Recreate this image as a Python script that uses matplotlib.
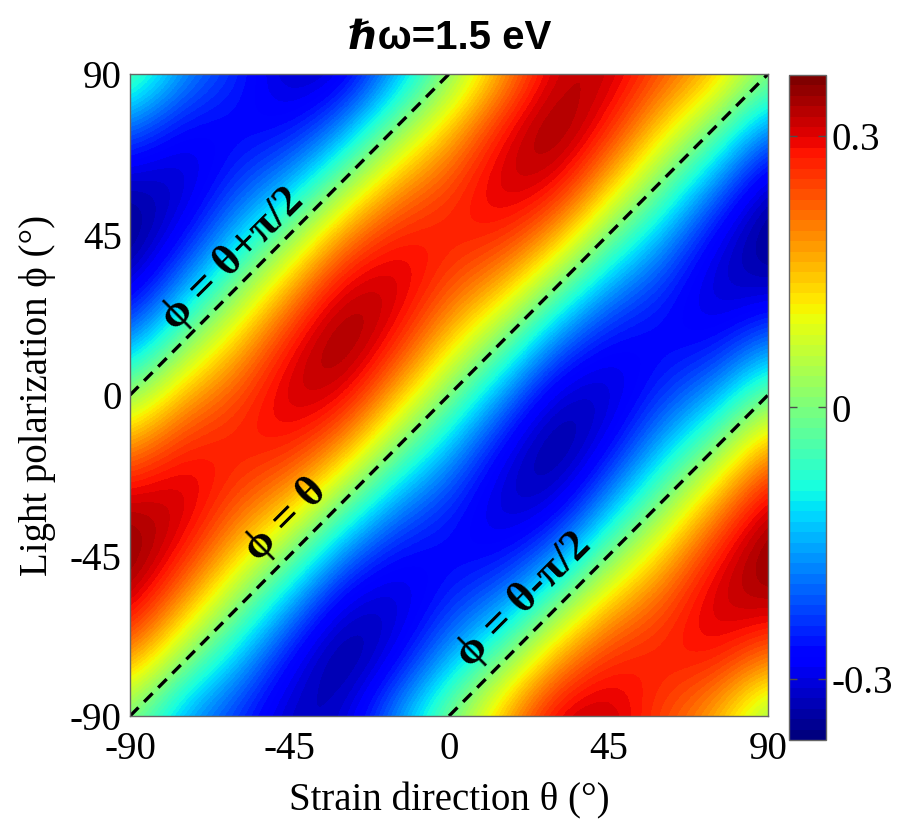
import matplotlib
matplotlib.use('Agg')
import matplotlib.pyplot as plt
import numpy as np

# angle grid (deg), 15 deg steps
theta = [-90, -75, -60, -45, -30, -15, 0, 15, 30, 45, 60, 75, 90]   # strain direction
phi = [-90, -75, -60, -45, -30, -15, 0, 15, 30, 45, 60, 75, 90]     # light polarization

# map values, one row per phi (bottom row = -90), one column per theta
r_m90 = [0.000, -0.165, -0.242, -0.330, -0.322, -0.165, 0.000, 0.165, 0.322, 0.330, 0.242, 0.165, 0.000]
r_m75 = [0.186, 0.000, -0.140, -0.286, -0.372, -0.286, -0.140, 0.000, 0.186, 0.286, 0.280, 0.286, 0.186]
r_m60 = [0.322, 0.165, 0.000, -0.165, -0.322, -0.330, -0.242, -0.165, 0.000, 0.165, 0.242, 0.330, 0.322]
r_m45 = [0.372, 0.286, 0.140, 0.000, -0.186, -0.286, -0.280, -0.286, -0.186, 0.000, 0.140, 0.286, 0.372]
r_m30 = [0.322, 0.330, 0.242, 0.165, 0.000, -0.165, -0.242, -0.330, -0.322, -0.165, 0.000, 0.165, 0.322]
r_m15 = [0.186, 0.286, 0.280, 0.286, 0.186, 0.000, -0.140, -0.286, -0.372, -0.286, -0.140, 0.000, 0.186]
r_0 = [0.000, 0.165, 0.242, 0.330, 0.322, 0.165, 0.000, -0.165, -0.322, -0.330, -0.242, -0.165, 0.000]
r_15 = [-0.186, 0.000, 0.140, 0.286, 0.372, 0.286, 0.140, 0.000, -0.186, -0.286, -0.280, -0.286, -0.186]
r_30 = [-0.322, -0.165, 0.000, 0.165, 0.322, 0.330, 0.242, 0.165, 0.000, -0.165, -0.242, -0.330, -0.322]
r_45 = [-0.372, -0.286, -0.140, 0.000, 0.186, 0.286, 0.280, 0.286, 0.186, 0.000, -0.140, -0.286, -0.372]
r_60 = [-0.322, -0.330, -0.242, -0.165, 0.000, 0.165, 0.242, 0.330, 0.322, 0.165, 0.000, -0.165, -0.322]
r_75 = [-0.186, -0.286, -0.280, -0.286, -0.186, 0.000, 0.140, 0.286, 0.372, 0.286, 0.140, 0.000, -0.186]
r_90 = [0.000, -0.165, -0.242, -0.330, -0.322, -0.165, 0.000, 0.165, 0.322, 0.330, 0.242, 0.165, 0.000]

Z = np.array([r_m90, r_m75, r_m60, r_m45, r_m30, r_m15, r_0,
              r_15, r_30, r_45, r_60, r_75, r_90])

ticks = [-90, -45, 0, 45, 90]
cticks = [-0.3, 0, 0.3]
clim = 0.368

serif = ['Liberation Serif', 'DejaVu Serif']
sans = ['Liberation Sans', 'DejaVu Sans']

fig = plt.figure(figsize=(9, 8.22), dpi=100)
ax = fig.add_axes([130/900, 1-716/822, 638/900, 642/822])
cax = fig.add_axes([789/900, 1-740/822, 37/900, 665/822])

cmap = plt.get_cmap('jet', 64)
step = theta[1]-theta[0]
im = ax.imshow(Z, origin='lower', cmap=cmap, vmin=-clim, vmax=clim,
               extent=[theta[0]-step/2, theta[-1]+step/2, phi[0]-step/2, phi[-1]+step/2],
               interpolation='bicubic', aspect='auto')
ax.set_xlim(-90, 90)
ax.set_ylim(-90, 90)

# guide lines phi = theta, theta +/- pi/2
dash = dict(color='k', lw=2.4, ls='--', dashes=(3.6, 2.4))
ax.plot([-90, 90], [-90, 90], **dash)
ax.plot([-90, 0], [0, 90], **dash)
ax.plot([0, 90], [-90, 0], **dash)

lab = dict(rotation=45, rotation_mode='anchor', ha='center', va='center',
           fontsize=32, fontweight='bold', family=serif)
ax.text(-61, 38, 'ϕ = θ+π/2', **lab)
ax.text(-46, -35, 'ϕ = θ', **lab)
ax.text(21, -57.5, 'ϕ = θ-π/2', **lab)

ax.set_xticks(ticks)
ax.set_yticks(ticks)
ax.set_xticklabels([str(t) for t in ticks], family=serif, fontsize=28)
ax.set_yticklabels([str(t) for t in ticks], family=serif, fontsize=28)
ax.tick_params(axis='x', length=0, pad=11)
ax.tick_params(axis='y', length=0, pad=6)
for s in ax.spines.values():
    s.set_color('0.4')
    s.set_linewidth(1)

ax.set_xlabel('Strain direction θ (°)', family=serif, fontsize=28, labelpad=10)
ax.set_ylabel('Light polarization ϕ (°)', family=serif, fontsize=28, labelpad=10)
fig.text(0.5, 1-38/822, 'ℏω=1.5 eV', ha='center', va='center',
         fontsize=29, fontweight='bold', family=sans)

cb = fig.colorbar(im, cax=cax, ticks=cticks)
cb.ax.set_yticklabels(['-0.3', '0', '0.3'], family=serif, fontsize=28)
cb.ax.tick_params(direction='in', left=True, right=True, length=6,
                  color='0.3', width=1, pad=4)
cb.outline.set_edgecolor('0.4')
cb.outline.set_linewidth(1)

fig.savefig('out.png', dpi=100)
